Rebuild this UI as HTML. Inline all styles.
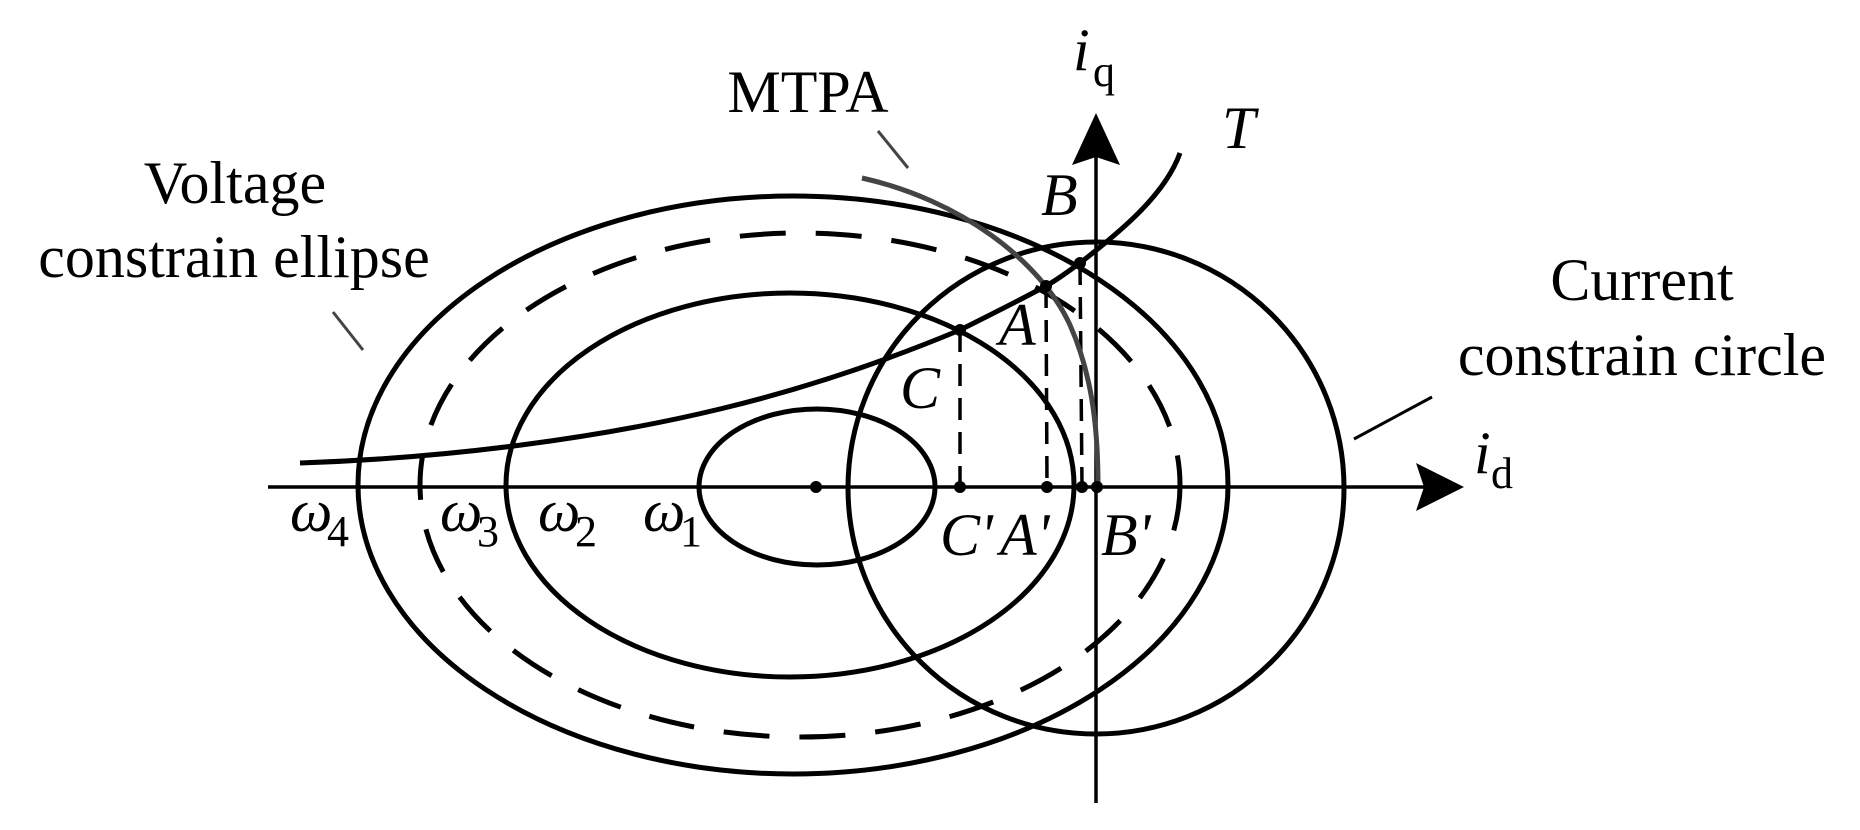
<!DOCTYPE html>
<html><head><meta charset="utf-8"><style>html,body{margin:0;padding:0;background:#fff}svg{display:block}</style></head>
<body>
<svg width="1860" height="830" viewBox="0 0 1860 830" xmlns="http://www.w3.org/2000/svg" font-family="'Liberation Serif', serif">
<g fill="none" stroke="#000">
 <!-- axes -->
 <line x1="268" y1="487" x2="1430" y2="487" stroke-width="3.5"/>
 <line x1="1096" y1="803" x2="1096" y2="150" stroke-width="3.5"/>
 <!-- ellipses -->
 <ellipse cx="817" cy="487" rx="118" ry="78" stroke-width="5"/>
 <ellipse cx="790" cy="485" rx="284" ry="192" stroke-width="5"/>
 <ellipse cx="800" cy="485" rx="380" ry="252" stroke-width="5" stroke-dasharray="46 30"/>
 <ellipse cx="793" cy="485" rx="435" ry="289" stroke-width="5"/>
 <!-- current circle -->
 <ellipse cx="1096" cy="488" rx="248" ry="246" stroke-width="5"/>
 <!-- T curve -->
 <path d="M300,463 C450,458 600,438 720,409 C820,385 900,355 960,330 C990,315 1020,300 1046,286 C1060,278 1070,270 1080,263 C1120,232 1165,195 1180,153" stroke-width="5"/>
 <!-- dashed verticals -->
 <line x1="960" y1="330" x2="960" y2="487" stroke-width="3.5" stroke-dasharray="22 12"/>
 <line x1="1046" y1="286" x2="1047" y2="487" stroke-width="3.5" stroke-dasharray="22 12"/>
 <line x1="1080" y1="263" x2="1082" y2="487" stroke-width="3.5" stroke-dasharray="22 12"/>
 <!-- MTPA curve -->
 <path d="M862,178 C960,200 1040,260 1070,325 C1090,370 1098,420 1098,485" stroke="#444" stroke-width="5"/>
 <!-- leaders -->
 <line x1="878" y1="131" x2="908" y2="168" stroke="#444" stroke-width="3"/>
 <line x1="333" y1="312" x2="363" y2="350" stroke="#444" stroke-width="3"/>
 <line x1="1354" y1="439" x2="1432" y2="397" stroke-width="3"/>
</g>
<!-- arrowheads -->
<path d="M1464,487 L1416,463 L1424,487 L1416,511 Z" fill="#000"/>
<path d="M1096,113 L1072,165 L1096,157 L1120,165 Z" fill="#000"/>
<!-- dots -->
<g fill="#000">
 <circle cx="816" cy="487" r="6"/>
 <circle cx="960" cy="487" r="6"/>
 <circle cx="1047" cy="487" r="6"/>
 <circle cx="1082" cy="487" r="6"/>
 <circle cx="1097" cy="487" r="6"/>
 <circle cx="960" cy="330" r="6"/>
 <circle cx="1046" cy="286" r="6"/>
 <circle cx="1080" cy="263" r="6"/>
</g>
<!-- text -->
<g fill="#000" font-size="60">
 <text x="808" y="112" text-anchor="middle">MTPA</text>
 <text x="235" y="203" text-anchor="middle">Voltage</text>
 <text x="234" y="277" text-anchor="middle">constrain ellipse</text>
 <text x="1642" y="300" text-anchor="middle">Current</text>
 <text x="1642" y="375" text-anchor="middle">constrain circle</text>
 <text x="1073" y="70" font-style="italic">i</text><text x="1093" y="86" font-size="44">q</text>
 <text x="1474" y="473" font-style="italic">i</text><text x="1491" y="488" font-size="44">d</text>
 <text x="1222" y="148" font-style="italic">T</text>
 <text x="1041" y="215" font-style="italic">B</text>
 <text x="999" y="345" font-style="italic">A</text>
 <text x="900" y="408" font-style="italic">C</text>
 <text x="940" y="555" font-style="italic">C'</text>
 <text x="1000" y="555" font-style="italic">A'</text>
 <text x="1101" y="555" font-style="italic">B'</text>
 <text x="290" y="531" font-style="italic">ω</text><text x="327" y="546" font-size="44">4</text>
 <text x="440" y="531" font-style="italic">ω</text><text x="477" y="546" font-size="44">3</text>
 <text x="538" y="531" font-style="italic">ω</text><text x="575" y="546" font-size="44">2</text>
 <text x="643" y="531" font-style="italic">ω</text><text x="680" y="546" font-size="44">1</text>
</g>
</svg>
</body></html>
